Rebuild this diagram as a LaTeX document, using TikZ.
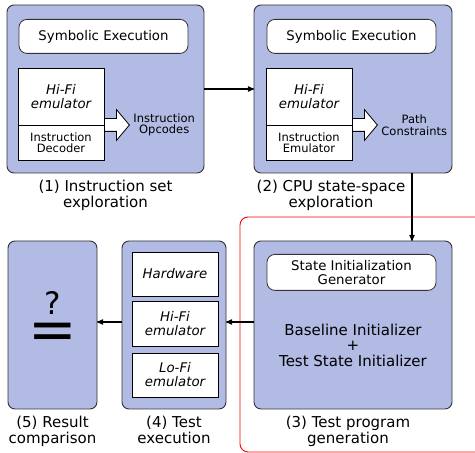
\documentclass[tikz,border=0pt]{standalone}
\usepackage{fontspec}
\setmainfont{DejaVu Sans}
\usepackage{tikz}
\usetikzlibrary{arrows,positioning,shapes.arrows}
\definecolor{stagefill}{RGB}{177,187,227}
\definecolor{stageline}{RGB}{51,51,51}
\tikzset{
    stage/.style={
           rectangle,
           rounded corners=7pt,
           draw=stageline, line width=0.9pt,
           fill=stagefill,
           minimum height=168pt,
           outer sep=0pt,
           },
    pill/.style={
           rectangle,
           rounded corners=8pt,
           draw=stageline, line width=0.8pt,
           fill=white,
           minimum width=169pt,
           align=center,
           font=\fontsize{13.3}{13.5}\selectfont,
           },
    part/.style={
           rectangle,
           draw=black, line width=0.8pt,
           fill=white,
           inner sep=1pt,
           outer sep=0pt,
           minimum width=86pt,
           align=center,
           },
    emu/.style={font=\fontsize{13.3}{14}\selectfont\itshape},
    small/.style={align=center, font=\fontsize{11.5}{11.5}\selectfont},
    caption/.style={align=center, font=\fontsize{15}{15.5}\selectfont},
    hollow/.style={
           single arrow,
           draw=black, line width=0.8pt,
           fill=white,
           inner xsep=0pt,
           inner ysep=6pt,
           minimum height=25pt,
           single arrow head extend=9pt,
           single arrow tip angle=100,
           anchor=tail,
           },
    link/.style={->, line width=1.2pt},
}

\begin{document}
\begin{tikzpicture}[x=1pt,y=1pt,>=stealth']
 \useasboundingbox (0,0) rectangle (475,453);
 \clip (0,0) rectangle (475,453);

 % red frame round stage 3
 \draw[red, line width=0.9pt, rounded corners=8pt] (240,1) rectangle (530,236);

 % (1) Instruction set exploration
 \node[stage,
  minimum width=197pt] (ISA) at (105.5,364) {};
 \node[pill,
  minimum height=34pt,
  below=14pt of ISA.north,
  xshift=-2pt] (SYM1) {Symbolic Execution};
 \node[part, emu,
  minimum height=57pt,
  below right=63pt and 11pt of ISA.north west] (HIFI1) {Hi-Fi\\emulator};
 \node[part, small,
  minimum height=35pt,
  below=0pt of HIFI1] (DEC1) {Instruction\\Decoder};
 \node[hollow] (ARR1) at (HIFI1.south east) {};
 \node[small, right=0pt of ARR1.tip] (OPC) {Instruction\\Opcodes};
 \node[caption, below=4pt of ISA] (CAP1) {(1) Instruction set\\exploration};

 % (2) CPU state-space exploration
 \node[stage,
  minimum width=198pt,
  right=50pt of ISA] (CPU) {};
 \node[pill,
  minimum height=34pt,
  below=14pt of CPU.north,
  xshift=-1.5pt] (SYM2) {Symbolic Execution};
 \node[part, emu,
  minimum height=57pt,
  below right=63pt and 12pt of CPU.north west] (HIFI2) {Hi-Fi\\emulator};
 \node[part, small,
  minimum height=35pt,
  below=0pt of HIFI2] (EMU2) {Instruction\\Emulator};
 \node[hollow] (ARR2) at (HIFI2.south east) {};
 \node[small, right=0pt of ARR2.tip] (PATH) {Path\\Constraints};
 \node[caption, below=4pt of CPU, xshift=-22pt] (CAP2) {(2) CPU state-space\\exploration};

 % (3) Test program generation
 \node[stage,
  minimum width=198pt,
  below=68pt of CPU] (GEN) {};
 \node[pill,
  minimum height=36pt,
  below=13pt of GEN.north,
  xshift=-1.5pt] (SINIT) {State Initialization\\Generator};
 \node[caption, yshift=-20pt] (INIT) at (GEN.center) {Baseline Initializer\\+\\Test State Initializer};
 \node[caption, below=4pt of GEN, xshift=-5pt] (CAP3) {(3) Test program\\generation};

 % (4) Test execution
 \node[stage,
  minimum width=104pt,
  left=28pt of GEN] (EXE) {};
 \node[part, emu,
  minimum height=44pt,
  below=11pt of EXE.north,
  xshift=1pt] (HW) {Hardware};
 \node[part, emu,
  minimum height=45pt,
  below=5pt of HW] (HIFI4) {Hi-Fi\\emulator};
 \node[part, emu,
  minimum height=44pt,
  below=7pt of HIFI4] (LOFI4) {Lo-Fi\\emulator};
 \node[caption, below=4pt of EXE] (CAP4) {(4) Test\\execution};

 % (5) Result comparison
 \node[stage,
  minimum width=89pt,
  left=25pt of EXE] (CMP) {};
 \node[inner sep=0pt, font=\fontsize{31}{31}\selectfont, yshift=22pt] (QM) at (CMP.center) {?};
 \node[inner sep=0pt, font=\fontsize{58}{58}\selectfont, yshift=-11pt] (EQ) at (CMP.center) {=};
 \node[caption, below=4pt of CMP] (CAP5) {(5) Result\\comparison};

 % connectors
 \draw[link] (ISA) -- (CPU);
 \draw[link] ([xshift=59pt]CPU.south) -- ([xshift=59pt]GEN.north);
 \draw[link] ([yshift=3pt]GEN.west) -- ([yshift=3pt]EXE.east);
 \draw[link] ([yshift=3pt]EXE.west) -- ([yshift=3pt]CMP.east);
\end{tikzpicture}
\end{document}
